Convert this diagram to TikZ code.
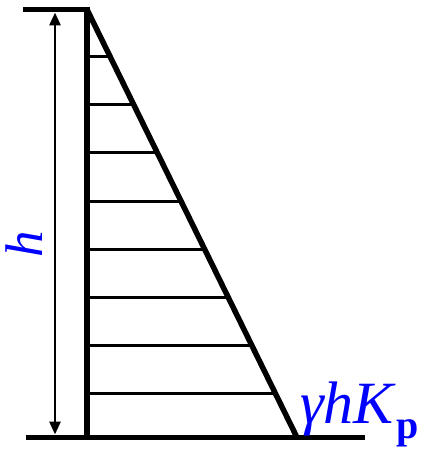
\documentclass[tikz,border=0pt]{standalone}
\usepackage{fontspec}
\setmainfont{Liberation Serif}
\usetikzlibrary{arrows.meta}
\begin{document}
\begin{tikzpicture}[x=1pt,y=-1pt,
  thick line/.style={line width=5.5pt},
  hatch/.style={line width=3pt},
  dim/.style={line width=2.8pt,{Triangle[length=13pt,width=11pt]}-{Triangle[length=13pt,width=11pt]}},
  lbl/.style={text=blue,inner sep=0pt}]
\useasboundingbox (0,0) rectangle (422,449);
% key points
\coordinate (topL) at (23,9.5);
\coordinate (topW) at (87,9.5);
\coordinate (botL) at (26,437.5);
\coordinate (botW) at (87,437.5);
\coordinate (botT) at (297,437.5);
\coordinate (botR) at (365,437.5);
\coordinate (arT) at (55,12.5);
\coordinate (arB) at (55,434.5);
% hatch lines
\foreach \yy in {57,105,153,201,249,297,345,393}{
  \pgfmathsetmacro{\xx}{87+(\yy-9.5)/428*210}
  \draw[hatch] (87,\yy) -- (\xx,\yy);
}
% frame
\draw[thick line] (topL) -- ([xshift=2.7pt]topW);
\draw[thick line] ([yshift=-2.7pt]topW) -- ([yshift=2.7pt]botW);
\draw[thick line] (topW) -- (botT);
\draw[thick line] (botL) -- (botR);
% dimension arrow
\draw[dim] (arT) -- (arB);
% labels
\node[lbl,rotate=90,anchor=base,font=\fontsize{53}{53}\selectfont\itshape] (hl) at (42,244) {h};
\node[lbl,anchor=base west,font=\fontsize{60}{60}\selectfont] (kl) at (300,423) {\textit{γhK}\raisebox{-15pt}{\fontsize{40}{40}\selectfont\bfseries p}};
\end{tikzpicture}
\end{document}
